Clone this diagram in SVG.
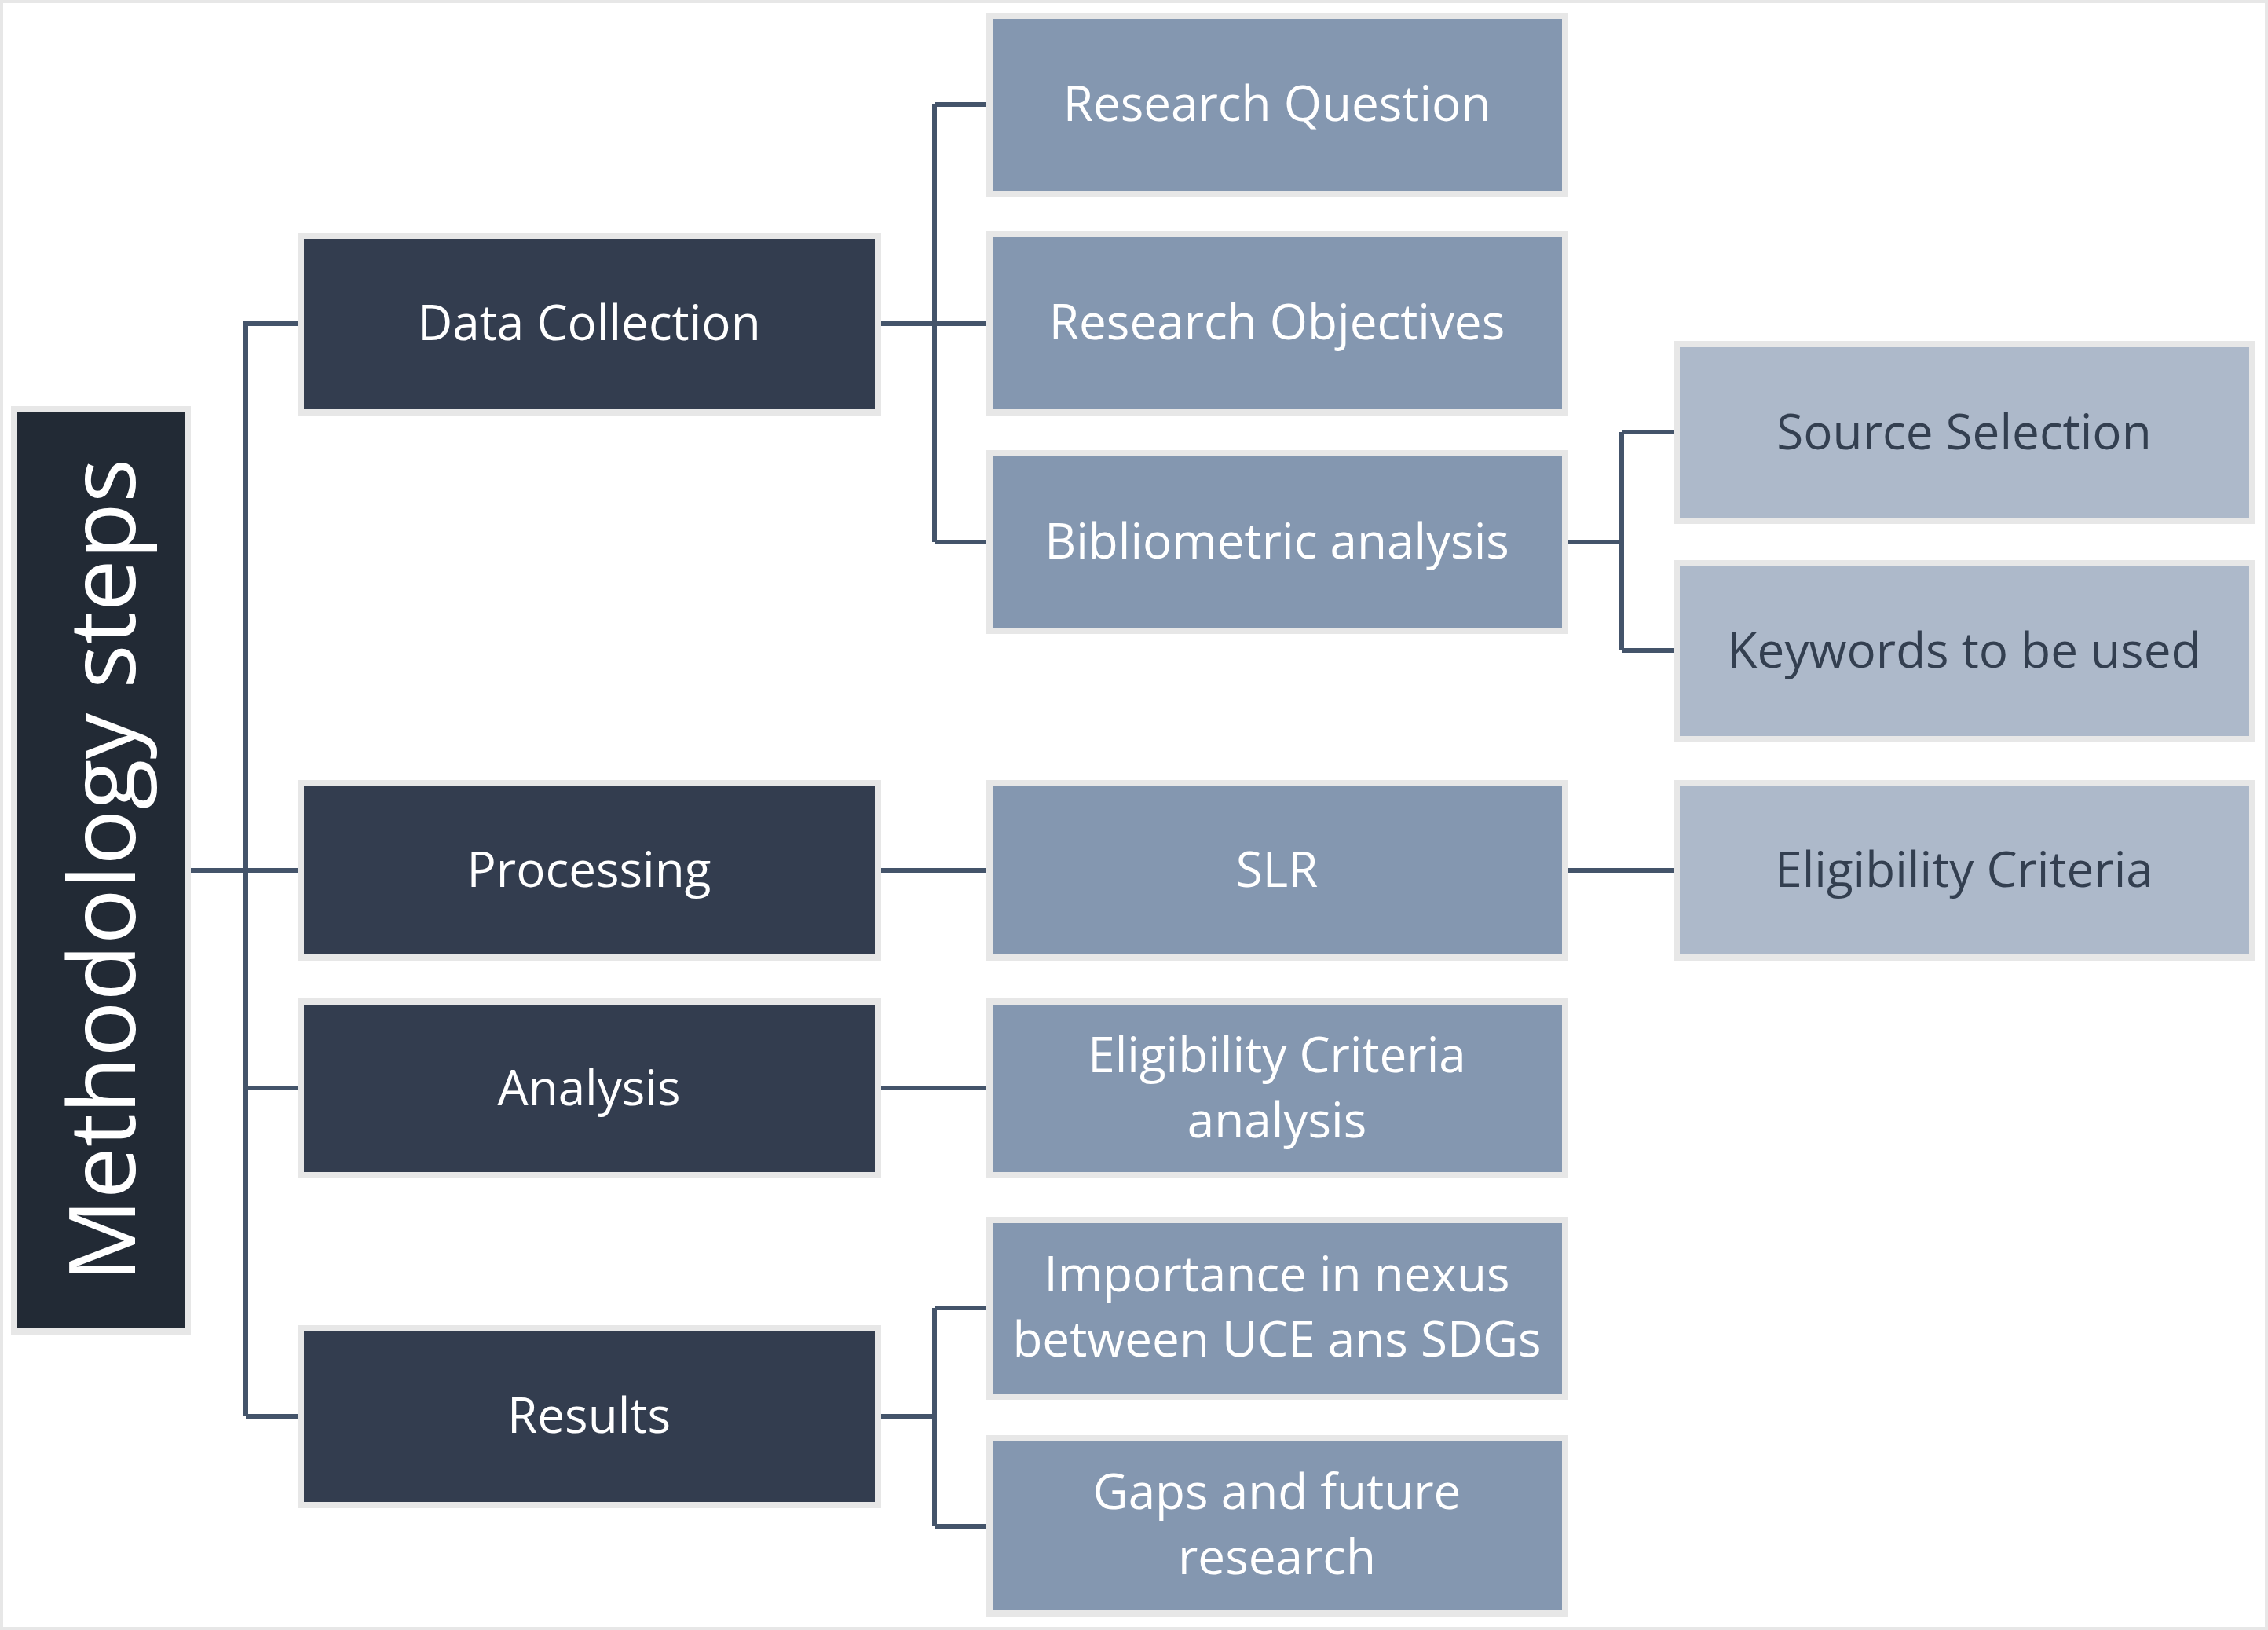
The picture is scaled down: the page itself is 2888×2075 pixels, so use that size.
<svg xmlns="http://www.w3.org/2000/svg" width="2888" height="2075" viewBox="0 0 2888 2075">
<style>
rect{stroke:#e7e7e7;stroke-width:8}
.d{fill:#333d4f}.m{fill:#8497b0}.l{fill:#adb9ca}
text{font-family:"Open Sans","Liberation Sans",sans-serif;font-size:62px;text-anchor:middle;fill:#fff;dominant-baseline:central}
.lt{fill:#333f50}
.c{fill:none;stroke:#44546a;stroke-width:6}
</style>
<rect width="2888" height="2075" fill="#fff" stroke="none"/>
<g class="c" id="connectors">
<path d="M239 1108H313M313 409V1803M313 412H383M313 1108H383M313 1385H383M313 1803H383"/>
<path d="M1118 412H1260M1190 133V690M1190 133H1260M1190 690H1260"/>
<path d="M1993 690H2065M2065 550V828M2065 550H2135M2065 828H2135"/>
<path d="M1118 1108H1260M1993 1108H2135M1118 1385H1260"/>
<path d="M1118 1803H1190M1190 1665V1943M1190 1665H1260M1190 1943H1260"/>
</g>
<g id="methodology"><rect x="18" y="521" width="221" height="1174" fill="#222a35"/><text transform="translate(126 1108) rotate(-90)" style="font-size:118px">Methodology steps</text></g>
<g id="data-collection"><rect class="d" x="383" y="300" width="735" height="225"/><text x="750" y="409">Data Collection</text></g>
<g id="processing"><rect class="d" x="383" y="997" width="735" height="222"/><text x="750" y="1105">Processing</text></g>
<g id="analysis"><rect class="d" x="383" y="1275" width="735" height="221"/><text x="750" y="1383">Analysis</text></g>
<g id="results"><rect class="d" x="383" y="1691" width="735" height="225"/><text x="750" y="1800">Results</text></g>
<g id="rq"><rect class="m" x="1260" y="20" width="733" height="227"/><text x="1626" y="130">Research Question</text></g>
<g id="ro"><rect class="m" x="1260" y="298" width="733" height="227"/><text x="1626" y="408">Research Objectives</text></g>
<g id="ba"><rect class="m" x="1260" y="577" width="733" height="226"/><text x="1626" y="687">Bibliometric analysis</text></g>
<g id="slr"><rect class="m" x="1260" y="997" width="733" height="222"/><text x="1626" y="1105">SLR</text></g>
<g id="eca"><rect class="m" x="1260" y="1275" width="733" height="221"/><text x="1626" y="1341">Eligibility Criteria</text><text x="1626" y="1424">analysis</text></g>
<g id="imp"><rect class="m" x="1260" y="1553" width="733" height="225"/><text x="1626" y="1620">Importance in nexus</text><text x="1626" y="1703">between UCE ans SDGs</text></g>
<g id="gaps"><rect class="m" x="1260" y="1831" width="733" height="223"/><text x="1626" y="1897">Gaps and future</text><text x="1626" y="1980">research</text></g>
<g id="ss"><rect class="l" x="2135" y="438" width="733" height="225"/><text class="lt" x="2501" y="548">Source Selection</text></g>
<g id="kw"><rect class="l" x="2135" y="717" width="733" height="224"/><text class="lt" x="2501" y="826">Keywords to be used</text></g>
<g id="ec"><rect class="l" x="2135" y="997" width="733" height="222"/><text class="lt" x="2501" y="1105">Eligibility Criteria</text></g>
</svg>
